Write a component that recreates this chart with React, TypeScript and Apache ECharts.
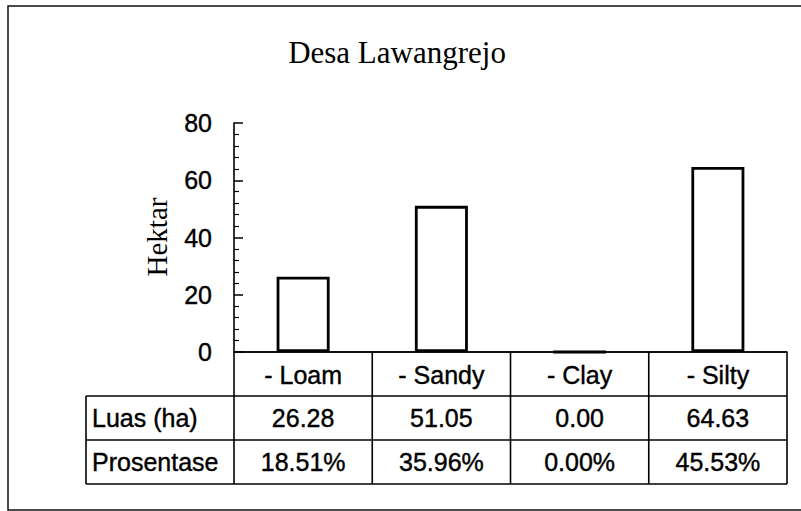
import React, { useEffect, useRef } from 'react';
import * as echarts from 'echarts';

const title = 'Desa Lawangrejo';
const yAxisName = 'Hektar';
const categories = ['- Loam', '- Sandy', '- Clay', '- Silty'];
const luas = [26.28, 51.05, 0.0, 64.63];
const prosentase = [18.51, 35.96, 0.0, 45.53];
const rowLabels = ['Luas (ha)', 'Prosentase'];
const yMin = 0;
const yMax = 80;
const yInterval = 20;

const SANS = '"Liberation Sans", Arial, sans-serif';
const SERIF = '"Liberation Serif", "Times New Roman", serif';

export default function App() {
  const ref = useRef<HTMLDivElement>(null);
  useEffect(() => {
    const chart = echarts.init(ref.current!, null, { renderer: 'svg' });
    chart.setOption({
      animation: false,
      backgroundColor: '#ffffff',
      grid: { left: 234, right: 14, top: 123, bottom: 159 },
      xAxis: {
        type: 'category',
        data: categories,
        axisLine: { show: true, lineStyle: { color: '#000', width: 1.6 } },
        axisTick: { show: false },
        axisLabel: { show: false },
        splitLine: { show: false },
      },
      yAxis: {
        type: 'value',
        min: yMin,
        max: yMax,
        interval: yInterval,
        axisLine: { show: true, lineStyle: { color: '#000', width: 1.6 } },
        axisTick: { show: true, inside: true, length: 9, lineStyle: { color: '#000', width: 1.5 } },
        minorTick: { show: true, splitNumber: 5, length: 5, lineStyle: { color: '#000', width: 1.2 } },
        axisLabel: { fontSize: 25, color: '#000', fontFamily: SANS, margin: 22, textBorderColor: '#000', textBorderWidth: 0.4 },
        splitLine: { show: false },
      },
      series: [
        {
          type: 'bar',
          data: luas,
          barWidth: 53,
          itemStyle: { color: '#ffffff', borderColor: '#000', borderWidth: 2.8 },
        },
      ],
    });

    const cx = categories.map((c) => chart.convertToPixel({ xAxisIndex: 0 }, c) as number);
    const catW = cx.length > 1 ? cx[1] - cx[0] : 138;
    const colLeft = cx[0] - catW / 2;
    const colRight = cx[cx.length - 1] + catW / 2;
    const y0 = chart.convertToPixel({ yAxisIndex: 0 }, 0) as number;
    const rowH = 44;
    const labelLeft = 86;
    const line = (x1: number, y1: number, x2: number, y2: number) => ({
      type: 'line',
      silent: true,
      shape: { x1, y1, x2, y2 },
      style: { stroke: '#000', lineWidth: 1.6 },
    });
    const txt = (s: string, x: number, y: number, align: string) => ({
      type: 'text',
      silent: true,
      x,
      y,
      style: {
        text: s,
        fill: '#000',
        stroke: '#000',
        lineWidth: 0.4,
        font: `25px ${SANS}`,
        align,
        verticalAlign: 'middle',
      },
    });

    const g: any[] = [];
    // outer frame
    g.push({
      type: 'rect',
      silent: true,
      shape: { x: 8, y: 6, width: 810, height: 504 },
      style: { fill: 'none', stroke: '#111', lineWidth: 1.5 },
    });
    // title
    g.push({
      type: 'text',
      silent: true,
      x: 397,
      y: 52,
      style: { text: title, fill: '#000', font: `31px ${SERIF}`, align: 'center', verticalAlign: 'middle' },
    });
    // y axis name
    g.push({
      type: 'text',
      silent: true,
      x: 157,
      y: 237,
      rotation: Math.PI / 2,
      style: { text: yAxisName, fill: '#000', font: `29px ${SERIF}`, align: 'center', verticalAlign: 'middle' },
    });
    // table lines
    g.push(line(colLeft, y0, colRight, y0));
    g.push(line(labelLeft, y0 + rowH, colRight, y0 + rowH));
    g.push(line(labelLeft, y0 + 2 * rowH, colRight, y0 + 2 * rowH));
    g.push(line(labelLeft, y0 + 3 * rowH, colRight, y0 + 3 * rowH));
    g.push(line(labelLeft, y0 + rowH, labelLeft, y0 + 3 * rowH));
    for (let i = 0; i <= categories.length; i++) {
      const x = colLeft + i * catW;
      g.push(line(x, y0, x, y0 + 3 * rowH));
    }
    // table texts
    categories.forEach((c, i) => {
      g.push(txt(c, cx[i], y0 + rowH / 2 + 1, 'center'));
      g.push(txt(luas[i].toFixed(2), cx[i], y0 + rowH * 1.5, 'center'));
      g.push(txt(prosentase[i].toFixed(2) + '%', cx[i], y0 + rowH * 2.5, 'center'));
    });
    rowLabels.forEach((r, j) => {
      g.push(txt(r, labelLeft + 6, y0 + rowH * (1.5 + j), 'left'));
    });

    chart.setOption({ graphic: g });
    return () => chart.dispose();
  }, []);
  return <div ref={ref} style={{ position: 'fixed', left: 0, top: 0, width: 801, height: 511 }} />;
}
